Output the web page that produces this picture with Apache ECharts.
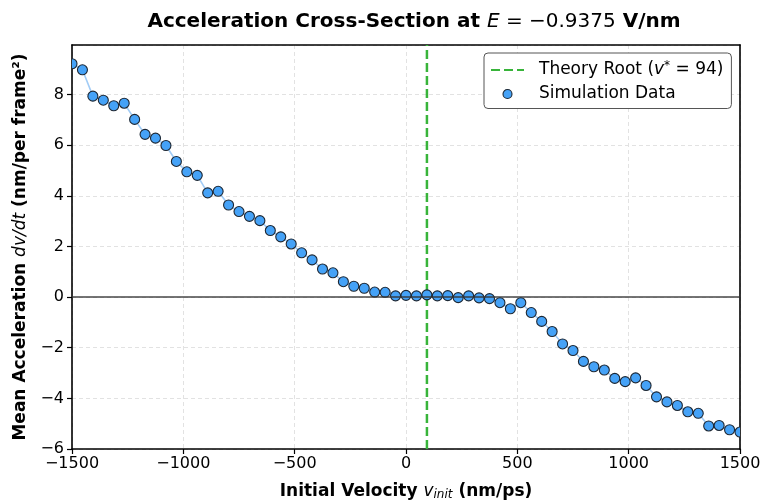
<!DOCTYPE html>
<html><head><meta charset="utf-8">
<script src="https://cdn.jsdelivr.net/npm/echarts@6/dist/echarts.min.js"></script>
<style>html,body{margin:0;padding:0;background:#fff}#c{width:761px;height:500px}</style>
</head><body><div id="c"></div>
<script>
const velocities = [-1500, -1453.125, -1406.25, -1359.375, -1312.5, -1265.625, -1218.75, -1171.875, -1125, -1078.125,
  -1031.25, -984.375, -937.5, -890.625, -843.75, -796.875, -750, -703.125, -656.25, -609.375,
  -562.5, -515.625, -468.75, -421.875, -375, -328.125, -281.25, -234.375, -187.5, -140.625,
  -93.75, -46.875, 0, 46.875, 93.75, 140.625, 187.5, 234.375, 281.25, 328.125,
  375, 421.875, 468.75, 515.625, 562.5, 609.375, 656.25, 703.125, 750, 796.875,
  843.75, 890.625, 937.5, 984.375, 1031.25, 1078.125, 1125, 1171.875, 1218.75, 1265.625,
  1312.5, 1359.375, 1406.25, 1453.125, 1500];
const accelerations = [9.22, 8.98, 7.94, 7.78, 7.56, 7.66, 7.02, 6.43, 6.28, 5.99,
  5.36, 4.95, 4.81, 4.12, 4.18, 3.64, 3.38, 3.19, 3.02, 2.63,
  2.38, 2.10, 1.75, 1.47, 1.11, 0.96, 0.61, 0.43, 0.35, 0.20,
  0.19, 0.05, 0.07, 0.05, 0.09, 0.05, 0.06, -0.02, 0.05, -0.03,
  -0.06, -0.22, -0.46, -0.22, -0.61, -0.96, -1.36, -1.85, -2.11, -2.54,
  -2.75, -2.88, -3.21, -3.34, -3.19, -3.49, -3.94, -4.14, -4.28, -4.53,
  -4.59, -5.09, -5.07, -5.24, -5.33];
const theoryRoot = 94;
const xRange = [-1500, 1500];
const yRange = [-6, 9.96];
const xTickStep = 500;
const yTickStep = 2;

const FONT = 'DejaVu Sans';
const MARKER_FILL = '#45a2f7';
const MARKER_EDGE = '#1d2733';
const points = velocities.map((v, i) => [v, accelerations[i]]);
const fmtNum = v => (v < 0 ? '\u2212' + Math.abs(v) : String(v));

const frameAxis = {
  type: 'value', show: true,
  axisLine: {show: true, onZero: false, lineStyle: {color: '#000', width: 1.6}},
  axisTick: {show: false}, axisLabel: {show: false}, splitLine: {show: false}
};

const chart = echarts.init(document.getElementById('c'), null, {renderer: 'canvas'});
chart.setOption({
  animation: false,
  backgroundColor: '#fff',
  title: {
    text: '{b|Acceleration Cross-Section at }{i|E}{r| = \u22120.9375}{b| V/nm}',
    left: 409, top: 7, textAlign: 'center',
    textStyle: {
      rich: {
        b: {fontFamily: FONT, fontWeight: 'bold', fontSize: 20, color: '#000'},
        i: {fontFamily: FONT, fontStyle: 'italic', fontWeight: 'normal', fontSize: 20, color: '#000'},
        r: {fontFamily: FONT, fontWeight: 'normal', fontSize: 20, color: '#000'}
      }
    }
  },
  legend: {
    orient: 'vertical', left: 484, top: 53,
    padding: [7, 8, 6, 6], itemGap: 7,
    itemWidth: 33, itemHeight: 9,
    backgroundColor: '#fff', borderColor: '#555', borderWidth: 1, borderRadius: 4,
    data: [
      {name: 'Theory Root', itemStyle: {opacity: 0}},
      {name: 'Simulation Data', icon: 'circle', itemStyle: {color: MARKER_FILL, borderColor: MARKER_EDGE, borderWidth: 1.1}}
    ],
    formatter: name => name === 'Theory Root' ? '{t|Theory Root (}{i|v}{s|*}{t| = 94)}' : '{t|Simulation Data}',
    textStyle: {
      padding: [0, 0, 0, 10],
      rich: {
        t: {fontFamily: FONT, fontSize: 17, color: '#000', lineHeight: 20},
        i: {fontFamily: FONT, fontSize: 17, fontStyle: 'italic', color: '#000', lineHeight: 20},
        s: {fontFamily: FONT, fontSize: 12, color: '#000', verticalAlign: 'top', lineHeight: 20}
      }
    }
  },
  grid: {left: 72, right: 21, top: 45, bottom: 51, show: false, containLabel: false, outerBoundsMode: 'none'},
  xAxis: [{
    type: 'value', min: xRange[0], max: xRange[1], interval: xTickStep,
    name: '{b|Initial Velocity }{i|v}{sub|init}{b| (nm/ps)}',
    nameLocation: 'middle', nameGap: 34,
    nameTextStyle: {
      rich: {
        b: {fontFamily: FONT, fontWeight: 'bold', fontSize: 17, color: '#000'},
        i: {fontFamily: FONT, fontStyle: 'italic', fontSize: 17, color: '#000'},
        sub: {fontFamily: FONT, fontStyle: 'italic', fontSize: 12, color: '#000', verticalAlign: 'bottom', padding: [6, 0, 0, 0]}
      }
    },
    axisLine: {show: true, onZero: false, lineStyle: {color: '#000', width: 1.6}},
    axisTick: {show: true, length: 5, lineStyle: {color: '#000', width: 1.2}},
    axisLabel: {fontFamily: FONT, fontSize: 16, color: '#000', margin: 7, formatter: fmtNum},
    splitLine: {show: true, lineStyle: {color: '#e2e2e2', type: [4, 3], width: 1}}
  }, Object.assign({}, frameAxis, {position: 'top', min: xRange[0], max: xRange[1]})],
  yAxis: [{
    type: 'value', min: yRange[0], max: yRange[1], interval: yTickStep,
    name: '{b|Mean Acceleration }{i|dv/dt}{b| (nm/per frame\u00b2)}',
    nameLocation: 'middle', nameRotate: 90, nameGap: 42,
    nameTextStyle: {
      rich: {
        b: {fontFamily: FONT, fontWeight: 'bold', fontSize: 17, color: '#000'},
        i: {fontFamily: FONT, fontStyle: 'italic', fontSize: 17, color: '#000'}
      }
    },
    axisLine: {show: true, onZero: false, lineStyle: {color: '#000', width: 1.6}},
    axisTick: {show: true, length: 5, lineStyle: {color: '#000', width: 1.2}},
    axisLabel: {fontFamily: FONT, fontSize: 16, color: '#000', margin: 8, showMaxLabel: false, formatter: fmtNum},
    splitLine: {show: true, lineStyle: {color: '#e2e2e2', type: [4, 3], width: 1}}
  }, Object.assign({}, frameAxis, {position: 'right', min: yRange[0], max: yRange[1]})],
  series: [
    {
      name: 'connect', type: 'line', data: points, showSymbol: false, symbol: 'none', silent: true,
      lineStyle: {color: 'rgba(100,170,240,0.6)', width: 1.6}, z: 2,
      markLine: {
        silent: true, symbol: 'none', label: {show: false},
        lineStyle: {color: '#333', width: 1.6, type: 'solid', opacity: 0.9},
        data: [{yAxis: 0}]
      }
    },
    {
      name: 'Theory Root', type: 'line', data: [[theoryRoot, yRange[0]], [theoryRoot, yRange[1]]],
      symbol: 'none', showSymbol: false, silent: true, z: 3,
      lineStyle: {color: '#38b43a', width: 2.5, type: [9, 4]},
      itemStyle: {color: '#38b43a'}
    },
    {
      name: 'Simulation Data', type: 'custom', data: points, z: 4, clip: true,
      itemStyle: {color: MARKER_FILL, borderColor: MARKER_EDGE, borderWidth: 1.1},
      renderItem: (params, api) => {
        const p = api.coord([api.value(0), api.value(1)]);
        return {
          type: 'circle',
          shape: {cx: p[0], cy: p[1], r: 5},
          style: {fill: MARKER_FILL, stroke: MARKER_EDGE, lineWidth: 1.1}
        };
      }
    }
  ]
});
</script>
</body></html>
